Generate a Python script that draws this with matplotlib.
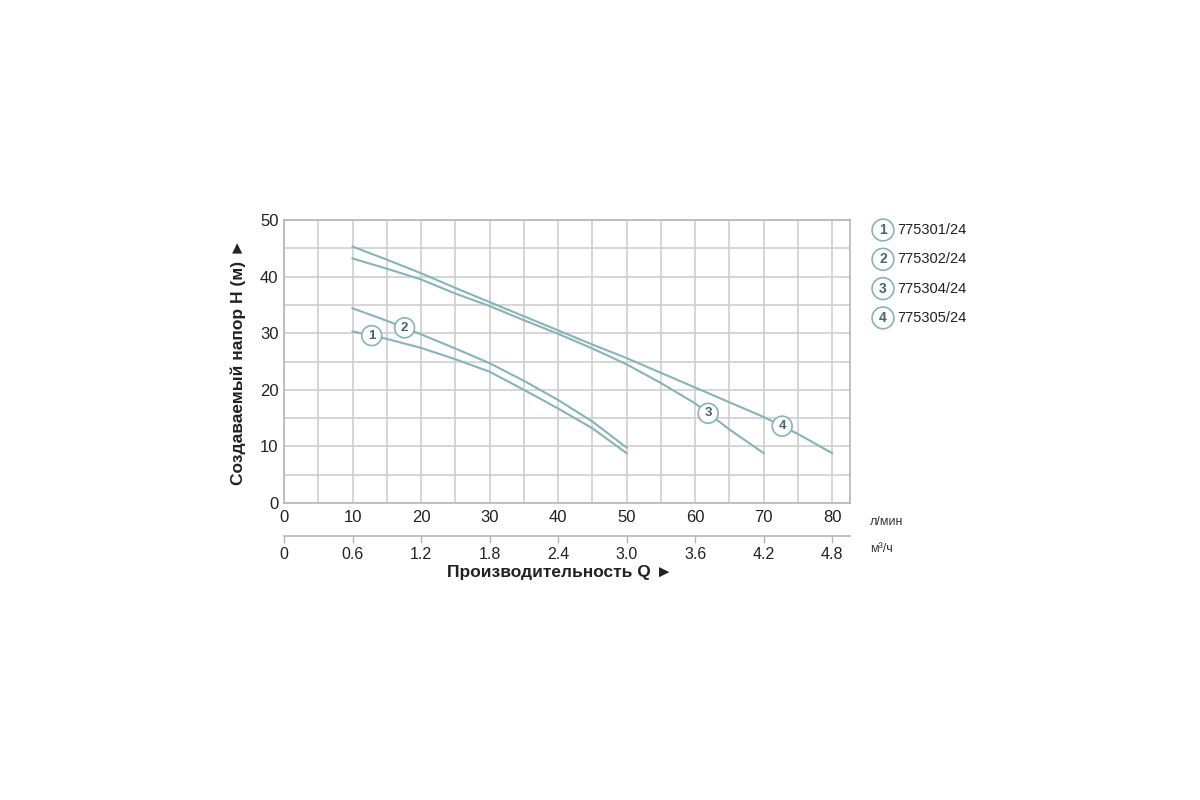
import matplotlib.pyplot as plt
import numpy as np

plt.rcParams['font.family'] = ['Liberation Sans', 'DejaVu Sans']

# расход, л/мин
q1 = [10, 15, 20, 25, 30, 35, 40, 45, 50]
h1 = [30.3, 29.0, 27.4, 25.4, 23.2, 20.0, 16.7, 13.2, 8.8]
q2 = [10, 15, 20, 25, 30, 35, 40, 45, 50]
h2 = [34.4, 32.2, 29.8, 27.3, 24.7, 21.6, 18.2, 14.4, 9.8]
q3 = [10, 15, 20, 25, 30, 35, 40, 45, 50, 55, 60, 65, 70]
h3 = [43.2, 41.4, 39.5, 37.0, 34.8, 32.3, 29.9, 27.3, 24.5, 21.2, 17.6, 13.0, 8.8]
q4 = [10, 15, 20, 25, 30, 35, 40, 45, 50, 55, 60, 65, 70, 75, 80]
h4 = [45.3, 43.0, 40.6, 38.0, 35.5, 33.0, 30.5, 28.0, 25.6, 23.0, 20.4, 17.8, 15.2, 12.2, 8.8]

models = ['775301/24', '775302/24', '775304/24', '775305/24']
label_q = [12.8, 17.6, 61.9, 72.7]  # где стоят кружки с номерами

lpm_ticks = [0, 10, 20, 30, 40, 50, 60, 70, 80]
m3h_labels = ['0', '0.6', '1.2', '1.8', '2.4', '3.0', '3.6', '4.2', '4.8']
h_ticks = [0, 10, 20, 30, 40, 50]

line_c = '#86b4b8'
grid_c = '#cfcfcf'
num_c = '#46666b'

fig = plt.figure(figsize=(12, 8), dpi=100)
ax = fig.add_axes([284 / 1200, 1 - 503 / 800, 566 / 1200, 283 / 800])

curves = [(q1, h1), (q2, h2), (q3, h3), (q4, h4)]
for i, (q, h) in enumerate(curves):
    ax.plot(q, h, color=line_c, lw=1.5, zorder=3, solid_joinstyle='round')
    lq = label_q[i]
    lh = np.interp(lq, q, h)
    ax.text(lq, lh, str(i + 1), ha='center', va='center', fontsize=9.5,
            fontweight='bold', color=num_c, zorder=5,
            bbox=dict(boxstyle='circle,pad=0.3', fc='white', ec=line_c, lw=1.2))

ax.set_xlim(0, 82.6)
ax.set_ylim(0, 50)
ax.set_xticks(lpm_ticks)
ax.set_xticks(np.arange(5, 81, 10), minor=True)
ax.set_yticks(h_ticks)
ax.set_yticks([5, 15, 25, 35, 45], minor=True)
ax.grid(True, which='both', color=grid_c, lw=1.2, zorder=0)
ax.tick_params(which='both', length=0, labelsize=12, colors='#222222')
ax.tick_params(axis='x', pad=5)
ax.tick_params(axis='y', pad=4)
for s in ax.spines.values():
    s.set_color('#b5b5b5')
    s.set_linewidth(1.2)

# вторая шкала м3/ч
sec = ax.secondary_xaxis(-0.116)
sec.set_xticks(lpm_ticks, labels=m3h_labels)
sec.tick_params(length=5, width=1, color='#b5b5b5', labelsize=11.5,
                labelcolor='#222222', pad=3)
sec.spines['bottom'].set_color('#b5b5b5')
sec.spines['bottom'].set_linewidth(1.2)

ax.set_ylabel('Создаваемый напор H (м) ►', fontsize=12.5, fontweight='bold',
              color='#222222', labelpad=10)
fig.text(560 / 1200, 1 - 573 / 800, 'Производительность Q ►', ha='center',
         va='center', fontsize=12.5, fontweight='bold', color='#222222')
fig.text(870 / 1200, 1 - 522 / 800, 'л/мин', ha='left', va='center',
         fontsize=9, color='#333333')
fig.text(870 / 1200, 1 - 549 / 800, 'м³/ч', ha='left', va='center',
         fontsize=9, color='#333333')

# легенда
for i, m in enumerate(models):
    y = 1 - (230 + i * 29.3) / 800
    fig.text(883 / 1200, y, str(i + 1), ha='center', va='center', fontsize=10,
             fontweight='bold', color=num_c,
             bbox=dict(boxstyle='circle,pad=0.28', fc='white', ec=line_c, lw=1.2))
    fig.text(897 / 1200, y, m, ha='left', va='center', fontsize=10.5,
             color='#222222')

fig.savefig('out.png', dpi=100, facecolor='white')
